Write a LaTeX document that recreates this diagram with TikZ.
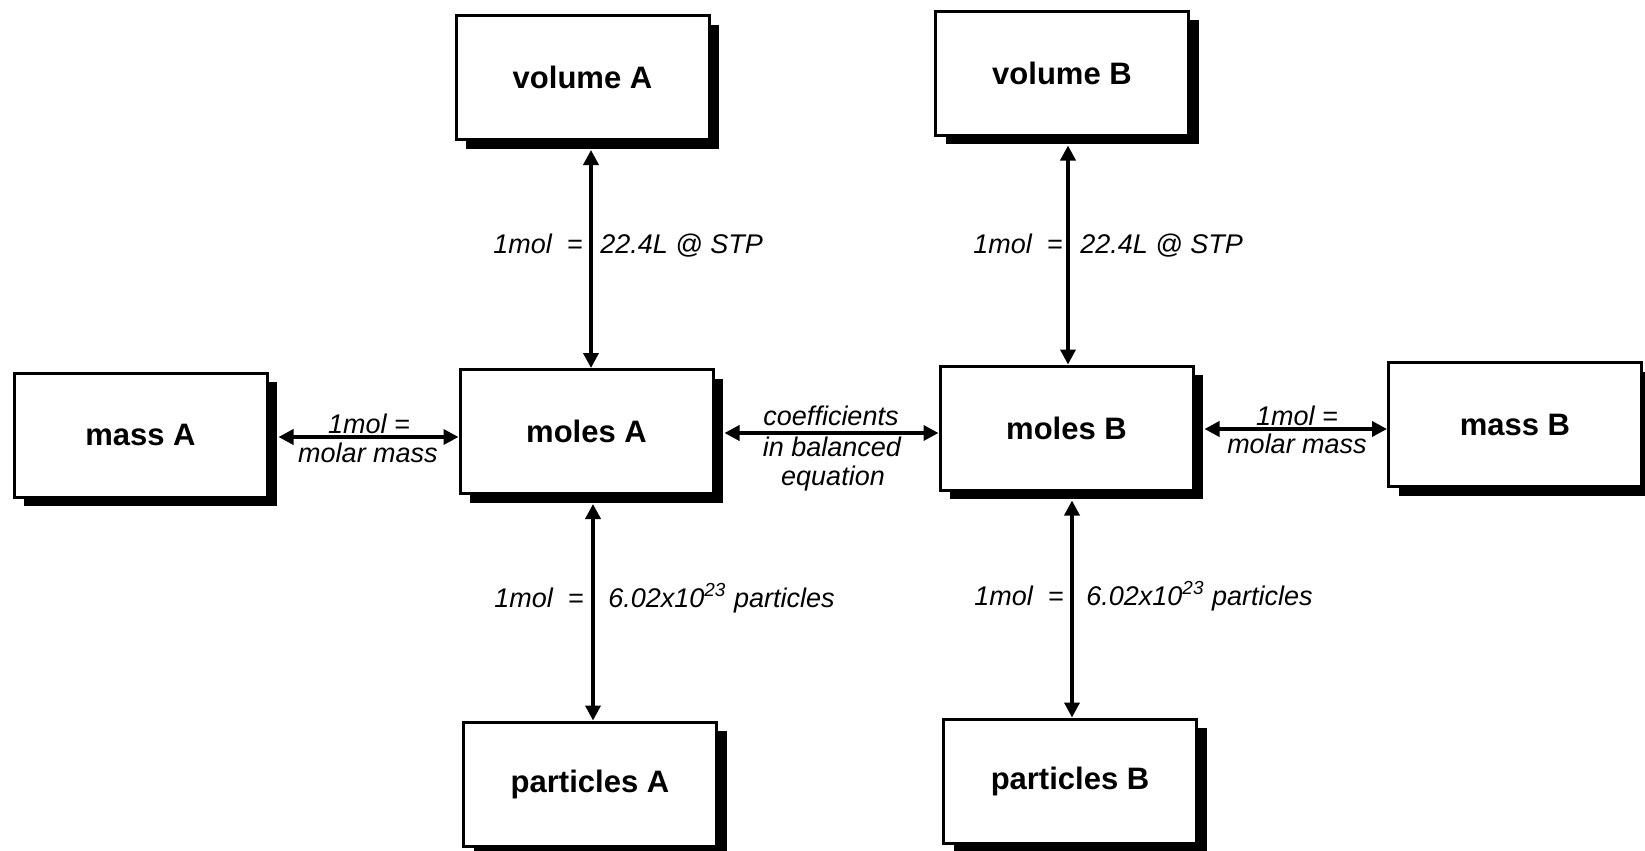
\documentclass[tikz,border=0pt]{standalone}
\usepackage{fontspec}
\setmainfont{Liberation Sans}
\usetikzlibrary{arrows.meta,shadows}
\begin{document}
\begin{tikzpicture}[x=0.5pt,y=-0.5pt,
  box/.style={draw=black, line width=1.5pt, fill=white,
    minimum width=126.5pt, minimum height=62pt, inner sep=0pt,
    font=\bfseries\fontsize{15.5}{18}\selectfont,
    drop shadow={shadow xshift=5pt, shadow yshift=-4.5pt, fill=black, opacity=1}},
  lbl/.style={font=\itshape\fontsize{13.5}{15}\selectfont, inner sep=0pt},
  arr/.style={line width=1.8pt, {Triangle[length=7.5pt,width=7.5pt]}-{Triangle[length=7.5pt,width=7.5pt]}}
]
\useasboundingbox (0,0) rectangle (1645,851);

% boxes
\node[box] (volA)  at (582.5,77.5) {volume A};
\node[box] (volB)  at (1062,73)    {volume B};
\node[box] (massA) at (140.5,435)  {mass A};
\node[box] (molA)  at (586.5,431.5){moles A};
\node[box] (molB)  at (1066.5,428) {moles B};
\node[box] (massB) at (1515,424.5) {mass B};
\node[box] (partA) at (590,784)    {particles A};
\node[box] (partB) at (1070,781)   {particles B};

% guide coordinates for connector positions
\coordinate (vA)  at (591,0);
\coordinate (vA2) at (593,0);
\coordinate (vB)  at (1068,0);
\coordinate (vB2) at (1072,0);
\coordinate (hA)  at (0,437);
\coordinate (hM)  at (0,433);
\coordinate (hB)  at (0,429);

% connectors
\draw[arr, shorten <=4.5pt] (volA.south -| vA) -- (molA.north -| vA);
\draw[arr, shorten <=4.5pt] (molA.south -| vA2) -- (partA.north -| vA2);
\draw[arr, shorten <=4.5pt] (volB.south -| vB) -- (molB.north -| vB);
\draw[arr, shorten <=4.5pt] (molB.south -| vB2) -- (partB.north -| vB2);
\draw[arr, shorten <=5pt] (massA.east |- hA) -- (molA.west |- hA);
\draw[arr, shorten <=5pt] (molA.east |- hM) -- (molB.west |- hM);
\draw[arr, shorten <=5pt] (molB.east |- hB) -- (massB.west |- hB);

% vertical labels
\node[lbl, anchor=base east] (lA1) at (583,253) {1mol\ \ =};
\node[lbl, anchor=base west] (rA1) at (600,253) {22.4L @ STP};
\node[lbl, anchor=base east] (lA2) at (584,607) {1mol\ \ =};
\node[lbl, anchor=base west] (rA2) at (608,607) {6.02x10\textsuperscript{23} particles};
\node[lbl, anchor=base east] (lB1) at (1063,253) {1mol\ \ =};
\node[lbl, anchor=base west] (rB1) at (1080,253) {22.4L @ STP};
\node[lbl, anchor=base east] (lB2) at (1064,605) {1mol\ \ =};
\node[lbl, anchor=base west] (rB2) at (1086,605) {6.02x10\textsuperscript{23} particles};

% horizontal labels
\node[lbl, anchor=base] (mA1) at (369,433) {1mol =};
\node[lbl, anchor=base] (mA2) at (368,462) {molar mass};
\node[lbl, anchor=base] (c1) at (831,425) {coefficients};
\node[lbl, anchor=base] (c2) at (832,456) {in balanced};
\node[lbl, anchor=base] (c3) at (833,485) {equation};
\node[lbl, anchor=base] (mB1) at (1297,425) {1mol =};
\node[lbl, anchor=base] (mB2) at (1297,453) {molar mass};
\end{tikzpicture}
\end{document}
